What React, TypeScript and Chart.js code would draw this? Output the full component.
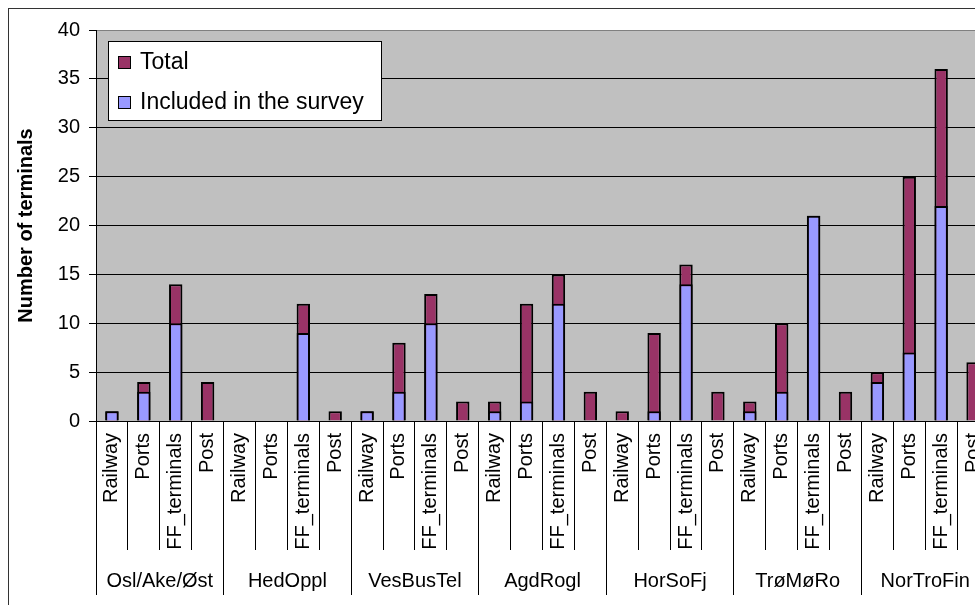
import React, { useEffect, useRef } from 'react';
import { Chart, registerables } from 'chart.js';

Chart.register(...registerables);

const groups = ['Osl/Ake/Øst', 'HedOppl', 'VesBusTel', 'AgdRogl', 'HorSoFj', 'TrøMøRo', 'NorTroFin'];
const types = ['Railway', 'Ports', 'FF_terminals', 'Post'];
const totalValues = [1, 4, 14, 4, 0, 0, 12, 1, 1, 8, 13, 2, 2, 12, 15, 3, 1, 9, 16, 3, 2, 10, 21, 3, 5, 25, 36, 6];
const includedValues = [1, 3, 10, 0, 0, 0, 9, 0, 1, 3, 10, 0, 1, 2, 12, 0, 0, 1, 14, 0, 1, 3, 21, 0, 4, 7, 22, 0];
const yMin = 0;
const yMax = 40;
const yStep = 5;
const yTitle = 'Number of terminals';

const FONT = "'Liberation Sans', Arial, sans-serif";

const plotBg = {
  id: 'plotBg',
  beforeDraw(chart: any) {
    const { ctx, chartArea: a } = chart;
    ctx.save();
    ctx.fillStyle = '#C0C0C0';
    ctx.fillRect(a.left, a.top, a.right - a.left, a.bottom - a.top);
    ctx.restore();
  },
};

const boxLegend = {
  id: 'boxLegend',
  afterDatasetsDraw(chart: any) {
    const { ctx, chartArea: a } = chart;
    const bx = a.left + 12;
    const by = a.top + 11;
    ctx.save();
    ctx.fillStyle = '#FFFFFF';
    ctx.fillRect(bx, by, 274, 80);
    ctx.strokeStyle = '#000000';
    ctx.lineWidth = 1;
    ctx.strokeRect(bx + 0.5, by + 0.5, 273, 79);
    ctx.font = `23px ${FONT}`;
    ctx.textBaseline = 'alphabetic';
    ctx.textAlign = 'left';
    chart.data.datasets.forEach((ds: any, i: number) => {
      const my = by + 15 + i * 40;
      ctx.fillStyle = ds.backgroundColor;
      ctx.fillRect(bx + 10, my, 13, 13);
      ctx.strokeStyle = '#000';
      ctx.strokeRect(bx + 10.5, my + 0.5, 12, 12);
      ctx.fillStyle = '#000';
      ctx.fillText(ds.label, bx + 32, by + 28 + i * 40);
    });
    ctx.restore();
  },
};

export default function App() {
  const ref = useRef<HTMLCanvasElement>(null);
  useEffect(() => {
    if (!ref.current) return;
    const categories = groups.flatMap(() => types);
    const chart = new Chart(ref.current, {
      type: 'bar',
      data: {
        labels: categories,
        datasets: [
          {
            label: 'Total',
            data: totalValues,
            backgroundColor: '#993366',
            borderColor: '#000000',
            borderWidth: 2,
            grouped: false,
            order: 1,
            barPercentage: 0.42,
            categoryPercentage: 1,
          },
          {
            label: 'Included in the survey',
            data: includedValues,
            backgroundColor: '#9999FF',
            borderColor: '#000000',
            borderWidth: 2,
            grouped: false,
            order: 0,
            barPercentage: 0.42,
            categoryPercentage: 1,
          },
        ],
      },
      options: {
        responsive: false,
        animation: false,
        layout: { padding: { left: 0, top: 19, right: 30, bottom: 29 } },
        plugins: { legend: { display: false }, tooltip: { enabled: false } },
        scales: {
          x: {
            type: 'category',
            position: 'bottom',
            weight: 0,
            offset: true,
            grid: {
              offset: true,
              drawOnChartArea: false,
              drawTicks: true,
              tickLength: 129,
              color: '#000000',
              lineWidth: 1,
            },
            border: { display: true, color: '#000000', width: 1 },
            ticks: {
              autoSkip: false,
              minRotation: 90,
              maxRotation: 90,
              padding: -117,
              color: '#000000',
              font: { family: FONT, size: 20 },
            },
            afterFit(scale: any) {
              scale.height = 129;
            },
          },
          x2: {
            type: 'category',
            labels: groups,
            position: 'bottom',
            weight: 1,
            offset: true,
            grid: {
              offset: true,
              drawOnChartArea: false,
              drawTicks: true,
              tickLength: 45,
              color: '#000000',
              lineWidth: 1,
            },
            border: { display: false },
            ticks: {
              autoSkip: false,
              maxRotation: 0,
              padding: -26,
              color: '#000000',
              font: { family: FONT, size: 20 },
            },
            afterFit(scale: any) {
              scale.height = 50;
            },
          },
          y: {
            min: yMin,
            max: yMax,
            ticks: {
              stepSize: yStep,
              padding: 9,
              color: '#000000',
              font: { family: FONT, size: 20 },
            },
            grid: {
              color: (c: any) => (c.tick && c.tick.value === yMax ? '#808080' : '#000000'),
              tickColor: '#000000',
              tickLength: 7,
              lineWidth: 1,
            },
            border: { display: true, color: '#000000', width: 1 },
            title: {
              display: true,
              text: yTitle,
              color: '#000000',
              font: { family: FONT, size: 20, weight: 'bold' },
              padding: { top: 5, bottom: 0 },
            },
            afterFit(scale: any) {
              scale.width = 87;
            },
          },
        },
      },
      plugins: [plotBg, boxLegend],
    });
    return () => chart.destroy();
  }, []);

  return (
    <div style={{ position: 'fixed', left: 0, top: 0, width: 975, height: 605, overflow: 'hidden', background: '#fff' }}>
      <div style={{ position: 'absolute', left: 8, top: 8, width: 1010, height: 620, border: '1px solid #333', background: '#fff' }}>
        <canvas ref={ref} width={1010} height={620} style={{ display: 'block', width: 1010, height: 620 }} />
      </div>
    </div>
  );
}
